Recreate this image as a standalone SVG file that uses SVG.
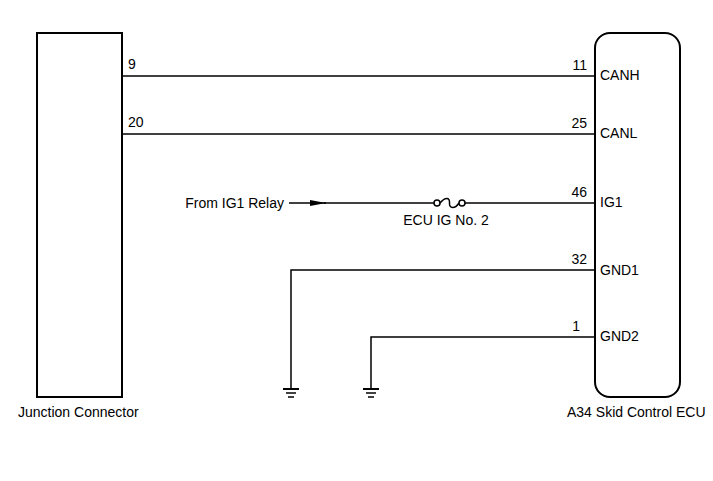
<svg xmlns="http://www.w3.org/2000/svg" width="713" height="481" viewBox="0 0 713 481">
<style>
text{font-family:"Liberation Sans",Arial,sans-serif;font-size:14px;fill:#000}
.box{fill:#fff;stroke:#000;stroke-width:2}
.w{fill:none;stroke:#000;stroke-width:1.5}
.e{text-anchor:end}
.m{text-anchor:middle}
</style>
<defs>
<marker id="arr" markerWidth="16" markerHeight="8" refX="16" refY="4" orient="auto" markerUnits="userSpaceOnUse">
<path d="M0,1 L16,4 L0,7 Z" fill="#000"/>
</marker>
<g id="gnd-sym">
<line x1="-8" y1="0" x2="8" y2="0" stroke="#000" stroke-width="2"/>
<line x1="-5" y1="4" x2="5" y2="4" stroke="#000" stroke-width="1.5"/>
<line x1="-3" y1="8" x2="3" y2="8" stroke="#000" stroke-width="1.5"/>
</g>
</defs>
<rect width="713" height="481" fill="#fff"/>
<g id="connectors">
<line class="w" x1="289" y1="203" x2="326" y2="203" marker-end="url(#arr)"/>
<line class="w" x1="122" y1="76" x2="595" y2="76"/>
<line class="w" x1="122" y1="134" x2="595" y2="134"/>
<line class="w" x1="324" y1="203" x2="434" y2="203"/>
<circle cx="437" cy="203" r="3" fill="#fff" stroke="#000" stroke-width="1.5"/>
<path class="w" d="M440,203 C445,197 450,197 449.5,203 S455,209 459,203"/>
<circle cx="462" cy="203" r="3" fill="#fff" stroke="#000" stroke-width="1.5"/>
<line class="w" x1="465" y1="203" x2="595" y2="203"/>
<polyline class="w" points="595,270 291,270 291,389"/>
<polyline class="w" points="595,337 371,337 371,389"/>
<use href="#gnd-sym" x="291" y="389"/>
<use href="#gnd-sym" x="371" y="389"/>
</g>
<g id="junction-connector">
<rect class="box" x="37" y="33" width="85" height="364"/>
<text x="18" y="417">Junction Connector</text>
<text x="128" y="69">9</text>
<text x="128" y="127">20</text>
</g>
<g id="skid-control-ecu">
<rect class="box" x="595" y="33" width="85" height="364" rx="15" ry="15"/>
<text x="567" y="417">A34 Skid Control ECU</text>
<text class="e" x="587" y="70">11</text>
<text x="600" y="80">CANH</text>
<text class="e" x="587" y="128">25</text>
<text x="600" y="138">CANL</text>
<text class="e" x="587" y="197">46</text>
<text x="600" y="207">IG1</text>
<text class="e" x="587" y="264">32</text>
<text x="600" y="275">GND1</text>
<text class="e" x="580" y="331">1</text>
<text x="600" y="341">GND2</text>
</g>
<g id="ig1-relay">
<text class="e" x="284" y="208">From IG1 Relay</text>
<text class="m" x="446" y="225">ECU IG No. 2</text>
</g>
</svg>
